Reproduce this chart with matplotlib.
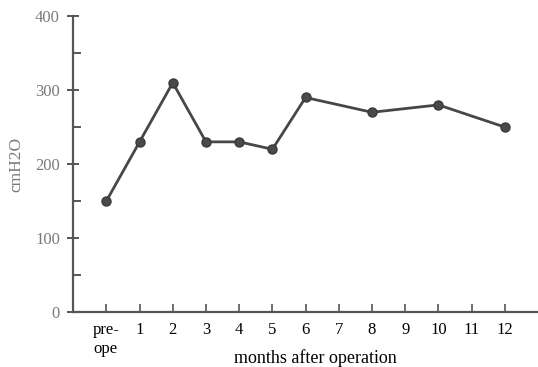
import matplotlib
matplotlib.use("Agg")
import matplotlib.pyplot as plt
import numpy as np

categories = ["pre-\nope", "1", "2", "3", "4", "5", "6", "7", "8", "9", "10", "11", "12"]
values = [150, 230, 310, 230, 230, 220, 290, None, 270, None, 280, None, 250]
y_ticks = [0, 100, 200, 300, 400]

plt.rcParams['font.family'] = ['Liberation Serif', 'DejaVu Serif']

fig = plt.figure(figsize=(5.38, 3.67), dpi=100)
ax = fig.add_axes([0.136, 0.15, 0.864, 0.806])

xs = [i for i, v in enumerate(values) if v is not None]
ys = [v for v in values if v is not None]
ax.plot(xs, ys, color="#474747", linewidth=2.0, marker="o", markersize=6.5,
        markerfacecolor="#4a4a4a", markeredgecolor="#3a3a3a")

ax.set_xlim(-1, 13)
ax.set_ylim(0, 400)
ax.set_xticks(range(len(categories)))
ax.set_xticklabels(categories, fontsize=12, color="#000000", fontweight="medium",
                   linespacing=1.25, va="top")
for lbl in ax.get_xticklabels():
    if lbl.get_text().startswith("pre"):
        lbl.set_multialignment("left")
ax.set_yticks(y_ticks)
ax.set_yticks([50, 150, 250, 350], minor=True)
ax.set_yticklabels([str(t) for t in y_ticks], fontsize=12, color="#7a7a7a")

for s in ["top", "right"]:
    ax.spines[s].set_visible(False)
for s in ["left", "bottom"]:
    ax.spines[s].set_color("#555555")
    ax.spines[s].set_linewidth(1.6)

ax.tick_params(axis="y", which="major", direction="inout", length=9, width=1.4, color="#555555", pad=5)
ax.tick_params(axis="y", which="minor", direction="in", length=6, width=1.4, color="#555555")
ax.tick_params(axis="x", which="major", direction="in", length=6, width=1.2, color="#555555", pad=7)

ax.set_ylabel("cmH2O", fontsize=12.5, color="#7a7a7a", labelpad=8)
ax.set_xlabel("months after operation", fontsize=13, color="#000000")
ax.xaxis.set_label_coords(0.52, -0.125)

fig.savefig("out.png", dpi=100)
